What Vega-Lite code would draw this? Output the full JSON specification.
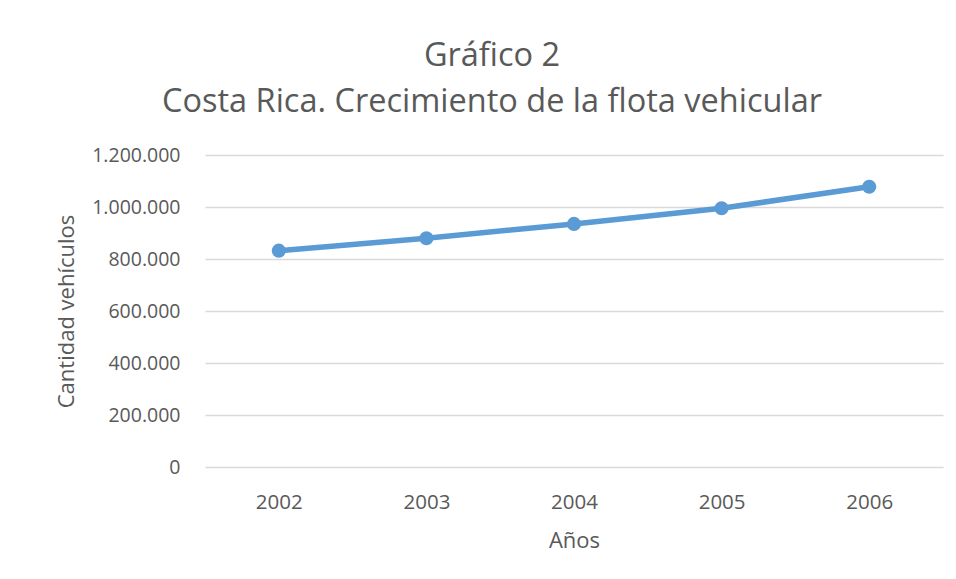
{
  "$schema": "https://vega.github.io/schema/vega-lite/v6.json",
  "autosize": "none",
  "width": 738,
  "height": 312,
  "padding": {"left": 205, "top": 155, "right": 13, "bottom": 112},
  "background": "white",
  "title": {
    "text": ["Gráfico 2", "Costa Rica. Crecimiento de la flota vehicular"],
    "anchor": "middle",
    "frame": "group",
    "dx": -82,
    "offset": 27,
    "font": "Open Sans",
    "fontSize": 32.5,
    "fontWeight": "normal",
    "color": "#595959",
    "lineHeight": 46
  },
  "data": {
    "values": [
      {"anio": "2002", "vehiculos": 832000},
      {"anio": "2003", "vehiculos": 880000},
      {"anio": "2004", "vehiculos": 935000},
      {"anio": "2005", "vehiculos": 995000},
      {"anio": "2006", "vehiculos": 1078000}
    ]
  },
  "config": {
    "view": {"stroke": null},
    "font": "Open Sans",
    "locale": {
      "number": {"decimal": ",", "thousands": ".", "grouping": [3], "currency": ["", " €"]}
    }
  },
  "mark": {"type": "line", "color": "#5B9BD5", "strokeWidth": 5.5, "point": {"filled": true, "size": 200, "color": "#5B9BD5", "opacity": 1}},
  "encoding": {
    "x": {
      "field": "anio",
      "type": "ordinal",
      "scale": {"type": "point", "padding": 0.5},
      "axis": {
        "title": "Años",
        "labelAngle": 0,
        "domain": false,
        "ticks": false,
        "grid": false,
        "labelFont": "Open Sans",
        "labelFontSize": 20.5,
        "labelColor": "#595959",
        "labelBaseline": "alphabetic",
        "labelPadding": 41,
        "titleFont": "Open Sans",
        "titleFontSize": 22,
        "titleFontWeight": "normal",
        "titleColor": "#595959",
        "titleBaseline": "alphabetic",
        "titleY": 80
      }
    },
    "y": {
      "field": "vehiculos",
      "type": "quantitative",
      "scale": {"domain": [0, 1200000]},
      "axis": {
        "title": "Cantidad vehículos",
        "values": [0, 200000, 400000, 600000, 800000, 1000000, 1200000],
        "format": ",d",
        "domain": false,
        "ticks": false,
        "grid": true,
        "gridColor": "#D9D9D9",
        "gridWidth": 1.5,
        "labelFont": "Open Sans",
        "labelFontSize": 19.5,
        "labelColor": "#595959",
        "labelPadding": 25,
        "titleFont": "Open Sans",
        "titleFontSize": 22,
        "titleFontWeight": "normal",
        "titleColor": "#595959",
        "titleBaseline": "alphabetic",
        "titleX": -132,
        "titleY": 156,
        "titleAngle": -90,
        "titleAlign": "center"
      }
    }
  }
}
